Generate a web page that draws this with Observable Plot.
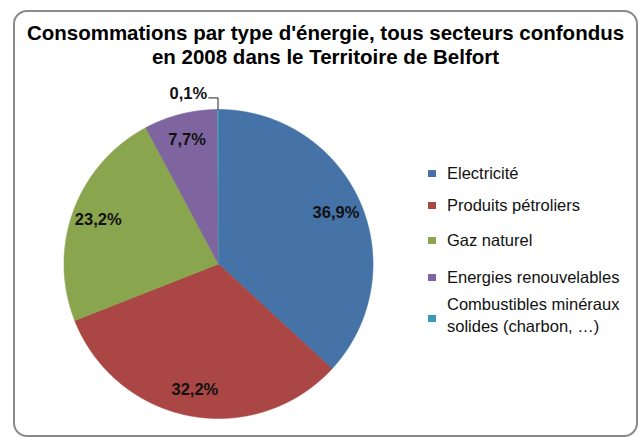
<!DOCTYPE html>
<html>
<head>
<meta charset="utf-8">
<script src="https://cdn.jsdelivr.net/npm/d3@7"></script>
<script src="https://cdn.jsdelivr.net/npm/@observablehq/plot@0.6"></script>
<style>
  body { margin: 0; background: #fff; font-family: "Liberation Sans", Arial, sans-serif; }
  #chart { position: relative; width: 644px; height: 437px; overflow: hidden; background: #fff; }
  #frame {
    position: absolute; left: 13px; top: 10px; width: 625px; height: 427px;
    box-sizing: border-box; border: 2px solid #8a8a8a; border-radius: 14px;
  }
  #title {
    position: absolute; left: 13px; width: 625px; top: 21px;
    text-align: center; font-weight: bold; font-size: 20.5px; line-height: 24px; color: #000;
  }
  #plot { position: absolute; left: 0; top: 0; }
  .row { position: absolute; left: 428px; font-size: 16.5px; line-height: 22px; color: #111; }
  .row .sw { position: absolute; left: 0; width: 8px; height: 7px; }
  .row .lab { position: absolute; left: 19px; width: 190px; white-space: normal; }
</style>
</head>
<body>
<div id="chart">
  <div id="frame"></div>
  <div id="title">Consommations par type d'énergie, tous secteurs confondus<br>en 2008 dans le Territoire de Belfort</div>
  <div id="plot"></div>
</div>
<script>
// Energy consumption shares, all sectors, Territoire de Belfort, 2008
const categories = [
  "Electricité",
  "Produits pétroliers",
  "Gaz naturel",
  "Energies renouvelables",
  "Combustibles minéraux solides (charbon, …)"
];
const shares = [36.9, 32.2, 23.2, 7.7, 0.1];
const colors = ["#4572a7", "#aa4643", "#89a54e", "#7e65a0", "#3d9ab4"];

// Layout
const W = 644, H = 437;
const cx = 218, cy = 263.5, R = 154.5;
const labelRadius = 0.83;
const legendTops = [162, 194, 229, 266, 293];
const swatchOffsets = [8, 8, 8, 8, 22];

const fmt = v => v.toFixed(1).replace(".", ",") + "%";

// Slice angles, clockwise from 12 o'clock
const arcs = d3.pie().sort(null).value(d => d)(shares);

// Each slice as a closed polygon in unit-radius coordinates (y up)
const slicePts = [];
arcs.forEach((a, i) => {
  const name = categories[i];
  const n = Math.max(2, Math.ceil((a.endAngle - a.startAngle) / 0.005));
  slicePts.push({name, x: 0, y: 0});
  for (let k = 0; k <= n; k++) {
    const t = a.startAngle + (a.endAngle - a.startAngle) * k / n;
    slicePts.push({name, x: Math.sin(t), y: Math.cos(t)});
  }
  slicePts.push({name, x: 0, y: 0});
});

// Value labels inside the larger slices
const inside = arcs
  .map((a, i) => ({a, i}))
  .filter(({i}) => shares[i] >= 1)
  .map(({a, i}) => {
    const m = (a.startAngle + a.endAngle) / 2;
    return {x: labelRadius * Math.sin(m), y: labelRadius * Math.cos(m), text: fmt(shares[i])};
  });

// Tiny slice: label outside with a leader line
const tinyIdx = shares.findIndex(v => v < 1);
const tinyMid = (arcs[tinyIdx].startAngle + arcs[tinyIdx].endAngle) / 2;
const bendY = 1.075;
const leader = [
  {x: Math.sin(tinyMid), y: Math.cos(tinyMid)},
  {x: Math.sin(tinyMid), y: bendY},
  {x: Math.sin(tinyMid) - 0.06, y: bendY}
];
const outside = [{x: Math.sin(tinyMid) - 0.07, y: 1.1, text: fmt(shares[tinyIdx])}];

const plot = Plot.plot({
  width: W,
  height: H,
  margin: 0,
  style: {fontFamily: "'Liberation Sans', Arial, sans-serif", background: "transparent"},
  x: {domain: [-cx / R, (W - cx) / R], range: [0, W], axis: null},
  y: {domain: [-(H - cy) / R, cy / R], range: [H, 0], axis: null},
  color: {domain: categories, range: colors},
  marks: [
    Plot.line(slicePts, {x: "x", y: "y", z: "name", fill: "name", stroke: "name", strokeWidth: 0.6, curve: "linear"}),
    Plot.text(inside, {x: "x", y: "y", text: "text", fontSize: 16.5, fontWeight: "bold", fill: "#111"}),
    Plot.line(leader, {x: "x", y: "y", stroke: "#222", strokeWidth: 1}),
    Plot.text(outside, {x: "x", y: "y", text: "text", textAnchor: "end", fontSize: 16.5, fontWeight: "bold", fill: "#111"})
  ]
});
document.getElementById("plot").append(plot);

// Legend
const chart = document.getElementById("chart");
categories.forEach((c, i) => {
  const row = document.createElement("div");
  row.className = "row";
  row.style.top = legendTops[i] + "px";
  const sw = document.createElement("span");
  sw.className = "sw";
  sw.style.background = colors[i];
  sw.style.top = swatchOffsets[i] + "px";
  const lab = document.createElement("span");
  lab.className = "lab";
  lab.textContent = c;
  row.append(sw, lab);
  chart.append(row);
});
</script>
</body>
</html>
